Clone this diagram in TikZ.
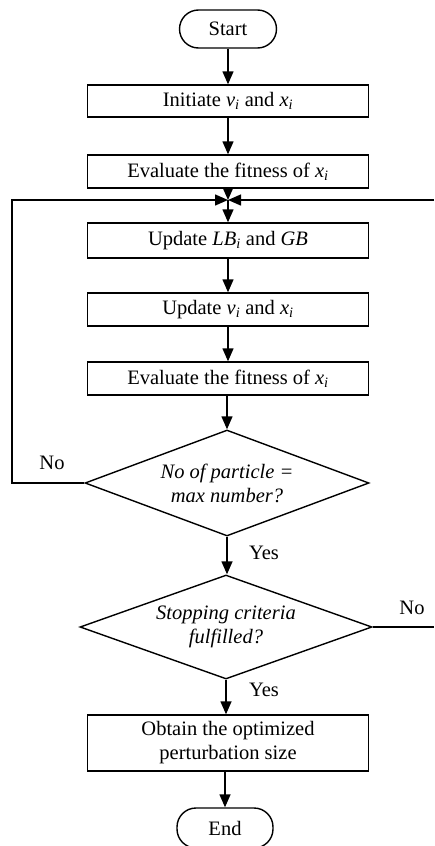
\documentclass[tikz,border=0pt]{standalone}
\usepackage{fontspec}
\setmainfont{Liberation Serif}
\usetikzlibrary{shapes.geometric,arrows.meta}
\newcommand{\iv}[2]{\textit{#1}\textsubscript{\textit{#2}}}
\begin{document}
\begin{tikzpicture}[x=1pt,y=-1pt,
  every node/.style={font=\fontsize{20.5}{24}\selectfont},
  box/.style={draw,line width=1.4pt,rectangle,minimum width=281pt,inner sep=2pt,align=center},
  term/.style={draw,line width=1.4pt,rectangle,rounded corners=19pt,minimum width=97pt,minimum height=38pt},
  dec/.style={draw,line width=1.4pt,diamond,aspect=2.7,inner sep=0pt,align=center,font=\fontsize{20.5}{24}\selectfont\itshape},
  conn/.style={line width=1.4pt,-{Triangle[length=13pt,width=11pt]}},
  ln/.style={line width=1.4pt}]
\useasboundingbox (0,0) rectangle (434,846);
\node[term] (start) at (228,29) {Start};
\node[box,minimum height=32pt] (b1) at (228,101) {Initiate \iv{v}{i} and \iv{x}{i}};
\node[box,minimum height=33pt] (b2) at (228,171.5) {Evaluate the fitness of \iv{x}{i}};
\coordinate (j) at (228,200);
\node[box,minimum height=35pt] (b3) at (228,240.5) {Update \iv{LB}{i} and \textit{GB}};
\node[box,minimum height=33pt] (b4) at (228,309.5) {Update \iv{v}{i} and \iv{x}{i}};
\node[box,minimum height=33pt] (b5) at (228,378.5) {Evaluate the fitness of \iv{x}{i}};
\node[dec,minimum width=284pt,minimum height=106pt] (d1) at (227,483) {No of particle =\\max number?};
\node[dec,minimum width=292pt,minimum height=104pt] (d2) at (226,627) {Stopping criteria\\fulfilled?};
\node[box,minimum height=56pt] (b6) at (228,743) {Obtain the optimized\\perturbation size};
\node[term,minimum width=96pt,minimum height=40pt] (end) at (225,828) {End};
\coordinate (lc) at (12,200);
\coordinate (rc) at (434,200);
\coordinate (lb) at (12,483);
\coordinate (re) at (434,627);
\draw[conn] (start) -- (b1);
\draw[conn] (b1) -- (b2);
\draw[conn] (b2) -- (j);
\draw[conn] (j) -- (b3);
\draw[conn] (b3) -- (b4);
\draw[conn] (b4) -- (b5);
\draw[conn] (b5.south -| d1.north) -- (d1.north);
\draw[conn] (d1.south) -- (d1.south |- d2.north);
\draw[conn] (d2.south) -- (d2.south |- b6.north);
\draw[conn] (b6.south -| end.north) -- (end.north);
\draw[conn] (d1.west) -- (lb) -- (lc) -- (j);
\draw[conn] (rc) -- (j);
\draw[ln] (d2.east) -- (re);
\node (n1) at (52,463) {No};
\node (n2) at (412,608) {No};
\node (y1) at (264,553) {Yes};
\node (y2) at (264,690) {Yes};
\end{tikzpicture}
\end{document}
